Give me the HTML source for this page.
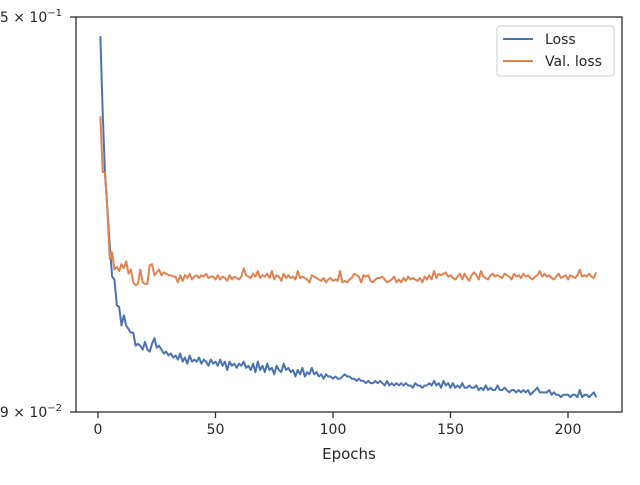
<!DOCTYPE html>
<html><head><meta charset="utf-8"><style>
body{margin:0;background:#fff;width:640px;height:480px;overflow:hidden}
svg text{font-family:"DejaVu Sans","Liberation Sans",sans-serif;fill:#262626}
</style></head><body>
<svg id="chart" width="640" height="480" xmlns="http://www.w3.org/2000/svg">
<rect x="0" y="0" width="640" height="480" fill="#fff"/>
<g id="plot"></g>
<rect x="76" y="17" width="546" height="395" fill="none" stroke="#262626" stroke-width="1.25"/>
<g id="xticks"></g>
<line x1="70" y1="17" x2="76" y2="17" stroke="#262626" stroke-width="1.25"/>
<line x1="70" y1="412" x2="76" y2="412" stroke="#262626" stroke-width="1.25"/>
<text x="62" y="22" font-size="14" text-anchor="end">5 × 10<tspan dy="-6" font-size="10">−1</tspan></text>
<text x="62" y="417" font-size="14" text-anchor="end">9 × 10<tspan dy="-6" font-size="10">−2</tspan></text>
<text x="349" y="459" font-size="15" text-anchor="middle">Epochs</text>
<g>
<rect x="497" y="26" width="117" height="50" rx="3" fill="#fff" stroke="#ccc"/>
<line x1="503" y1="39" x2="533" y2="39" stroke="#4c72b0" stroke-width="2"/>
<text x="545" y="44" font-size="14">Loss</text>
<line x1="503" y1="61" x2="533" y2="61" stroke="#dd8452" stroke-width="2"/>
<text x="545" y="66" font-size="14">Val. loss</text>
</g>
</svg>
<script>
const xTicks=[0,50,100,150,200];
const loss=[.46,.33,.252,.218,.186,.162,.160,.143,.142,.131,
.137,.131,.129,.127,.127,.120,.121,.120,.118,.122,
.118,.117,.121,.124,.119,.120,.118,.116,.117,.115,
.116,.114,.115,.113,.116,.112,.114,.111,.115,.112,
.113,.112,.114,.111,.113,.112,.110,.113,.111,.112,
.110,.113,.110,.112,.108,.112,.110,.111,.109,.111,
.110,.112,.109,.110,.108,.111,.107,.112,.108,.110,
.107,.111,.108,.109,.106,.110,.108,.107,.111,.108,
.109,.107,.108,.105,.108,.106,.109,.105,.107,.106,
.109,.106,.107,.105,.106,.104,.106,.105,.105,.104,
.105,.104,.104,.105,.106,.105,.105,.104,.104,.103,
.104,.103,.103,.102,.103,.102,.102,.103,.102,.103,
.102,.101,.103,.101,.102,.101,.102,.101,.102,.101,
.102,.101,.101,.100,.102,.101,.101,.100,.101,.101,
.102,.101,.103,.101,.102,.100,.103,.101,.102,.100,
.102,.100,.101,.100,.102,.100,.100,.101,.100,.100,
.101,.099,.100,.099,.101,.099,.100,.099,.099,.101,
.099,.099,.100,.099,.098,.099,.099,.098,.099,.098,
.099,.098,.099,.097,.098,.099,.100,.098,.098,.098,
.098,.099,.097,.098,.097,.097,.096,.097,.097,.097,
.096,.097,.097,.096,.099,.096,.097,.097,.096,.097,
.098,.096];
const valLoss=[.325,.255,.255,.215,.175,.180,.167,.169,.166,.171,
.168,.173,.164,.167,.158,.156,.157,.167,.158,.157,
.157,.170,.171,.163,.165,.167,.163,.165,.164,.163,
.163,.162,.162,.158,.163,.159,.163,.161,.164,.160,
.162,.163,.161,.163,.162,.164,.161,.162,.162,.160,
.163,.160,.162,.161,.159,.163,.160,.162,.161,.160,
.162,.168,.163,.162,.161,.164,.162,.166,.161,.163,
.162,.164,.161,.166,.160,.163,.162,.159,.164,.161,
.163,.161,.162,.160,.166,.161,.162,.161,.160,.158,
.163,.162,.161,.160,.159,.161,.158,.160,.161,.159,
.160,.159,.166,.158,.159,.158,.160,.161,.164,.163,
.162,.158,.163,.162,.163,.159,.158,.160,.161,.161,
.162,.160,.158,.159,.160,.162,.158,.160,.158,.161,
.159,.162,.160,.161,.160,.159,.161,.158,.162,.160,
.163,.160,.166,.161,.164,.163,.164,.165,.162,.163,
.161,.160,.162,.164,.160,.164,.161,.159,.163,.165,
.163,.160,.166,.162,.161,.160,.163,.164,.162,.163,
.162,.161,.164,.163,.162,.160,.164,.162,.163,.161,
.164,.162,.163,.161,.160,.162,.163,.166,.162,.164,
.162,.163,.161,.160,.162,.164,.161,.162,.163,.160,
.163,.162,.161,.163,.167,.162,.163,.162,.164,.162,
.161,.165];
const NS="http://www.w3.org/2000/svg";
const L=76,R=622,T=17,B=412,xmin=-9.36,xmax=222.98,ymin=0.09,ymax=0.5;
function xs(v){return L+(v-xmin)/(xmax-xmin)*(R-L);}
function ys(v){return B-(Math.log(v)-Math.log(ymin))/(Math.log(ymax)-Math.log(ymin))*(B-T);}
const plot=document.getElementById('plot');
function line(arr,color,name){
  const p=document.createElementNS(NS,'path');
  
  
  p.setAttribute('d',arr.map((v,i)=>(i?'L':'M')+xs(i+1).toFixed(2)+','+ys(v).toFixed(2)).join(''));
  p.setAttribute('fill','none');p.setAttribute('stroke',color);p.setAttribute('stroke-width','2');
  p.setAttribute('stroke-linejoin','round');
  plot.appendChild(p);
}
line(loss,'#4c72b0','loss-line');
line(valLoss,'#dd8452','val-loss-line');
const xt=document.getElementById('xticks');
xTicks.forEach(t=>{
  const l=document.createElementNS(NS,'line');
  
  
  l.setAttribute('x1',xs(t));l.setAttribute('x2',xs(t));l.setAttribute('y1',B);l.setAttribute('y2',B+6);
  l.setAttribute('stroke','#262626');l.setAttribute('stroke-width','1.25');xt.appendChild(l);
  const s=document.createElementNS(NS,'text');
  
  
  s.setAttribute('x',xs(t));s.setAttribute('y',B+22);s.setAttribute('font-size','14');s.setAttribute('text-anchor','middle');
  s.textContent=t;xt.appendChild(s);
});
</script>
</body></html>
